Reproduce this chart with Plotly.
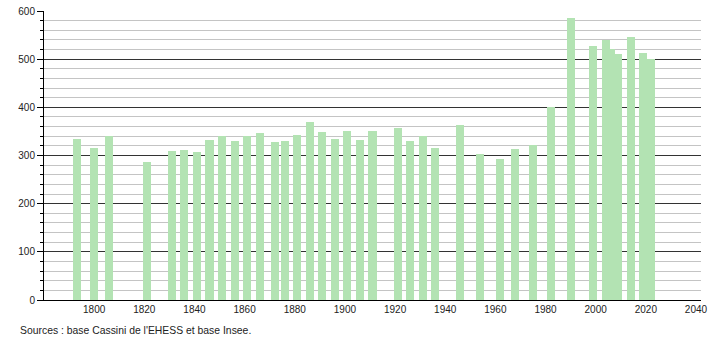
import plotly.graph_objects as go

years = [1793, 1800, 1806, 1821, 1831, 1836, 1841, 1846, 1851, 1856, 1861, 1866,
         1872, 1876, 1881, 1886, 1891, 1896, 1901, 1906, 1911, 1921, 1926, 1931,
         1936, 1946, 1954, 1962, 1968, 1975, 1982, 1990, 1999, 2004, 2006, 2009,
         2014, 2019, 2022]
population = [334, 316, 340, 287, 309, 311, 308, 332, 340, 331, 340, 346,
              328, 330, 343, 369, 349, 334, 351, 332, 351, 357, 330, 340,
              315, 363, 304, 293, 313, 322, 400, 585, 527, 540, 521, 510,
              547, 512, 500]
x_ticks = list(range(1800, 2041, 20))
y_ticks = list(range(0, 601, 100))
source_text = "Sources : base Cassini de l'EHESS et base Insee."

fig = go.Figure()
fig.add_trace(go.Bar(
    x=years, y=population, width=3.2,
    marker=dict(color="#b3e3b3", line=dict(width=0)),
    hoverinfo="x+y",
))

fig.update_layout(
    width=710, height=340,
    margin=dict(l=44, r=9, t=11, b=40),
    paper_bgcolor="white", plot_bgcolor="white",
    font=dict(family="Liberation Sans, Arial, sans-serif", size=10, color="#222"),
    showlegend=False,
    bargap=0,
    xaxis=dict(
        range=[1780, 2042], tickvals=x_ticks, ticktext=[str(t) for t in x_ticks],
        showgrid=False, zeroline=False, showline=True, linecolor="black", linewidth=1,
        ticks="", tickfont=dict(size=10), automargin=False,
    ),
    yaxis=dict(
        range=[0, 600], tickvals=y_ticks, showgrid=True, gridcolor="#333", gridwidth=1,
        zeroline=False, showline=True, linecolor="black", linewidth=1,
        ticks="outside", ticklen=6, tickcolor="black", tickwidth=1,
        tickfont=dict(size=10), automargin=False,
        minor=dict(dtick=20, tick0=0, showgrid=True, gridcolor="#c4c4c4", gridwidth=1,
                   ticks="outside", ticklen=3, tickcolor="black"),
    ),
    annotations=[dict(
        text=source_text, xref="paper", yref="paper", x=-0.04, y=-0.078,
        xanchor="left", yanchor="top", showarrow=False, font=dict(size=10.4, color="#222"),
    )],
)

fig.write_html("out.html")
